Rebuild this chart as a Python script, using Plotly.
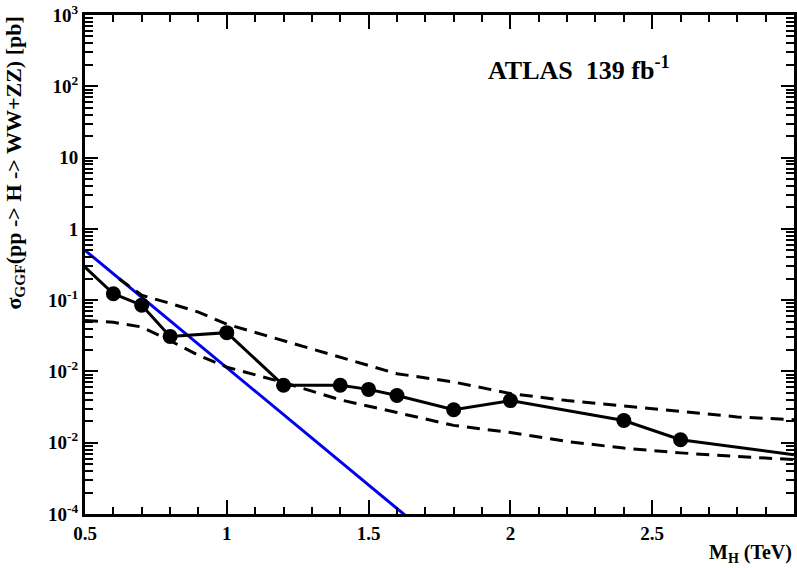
import plotly.graph_objects as go

# ---- data ----
mass_obs = [0.5, 0.6, 0.7, 0.8, 1.0, 1.2, 1.4, 1.5, 1.6, 1.8, 2.0, 2.4, 2.6, 3.0]
xs_obs = [0.29, 0.123, 0.085, 0.031, 0.035, 0.0064, 0.0064, 0.0056, 0.0046,
          0.0029, 0.0039, 0.00205, 0.0011, 0.00068]
marker_mask = [False] + [True] * 12 + [False]

mass_up = [0.62, 0.7, 0.8, 0.9, 1.0, 1.2, 1.4, 1.6, 1.8, 2.0, 2.2, 2.4, 2.6, 2.8, 3.0]
xs_up = [0.20, 0.117, 0.090, 0.068, 0.046, 0.027, 0.0162, 0.0093, 0.0071,
         0.0049, 0.0039, 0.0033, 0.00275, 0.0023, 0.0021]

mass_lo = [0.5, 0.6, 0.7, 0.8, 0.9, 1.0, 1.2, 1.4, 1.6, 1.8, 2.0, 2.2, 2.4, 2.6, 2.8, 3.0]
xs_lo = [0.052, 0.049, 0.042, 0.027, 0.0168, 0.0115, 0.0070, 0.0040, 0.00265,
         0.00175, 0.00139, 0.00104, 0.00084, 0.00072, 0.00064, 0.00058]

mass_th = [0.5, 1.0, 1.5, 1.7]
xs_th = [0.5, 0.0114, 2.6e-4, 5.6e-5]

# default plotly log labels -> labels shown in the reference
y_label_alias = {"100μ": "10<sup>-4</sup>", "0.001": "10<sup>-2</sup>",
                 "0.01": "10<sup>-2</sup>", "0.1": "10<sup>-1</sup>", "1": "1",
                 "10": "10", "100": "10<sup>2</sup>", "1000": "10<sup>3</sup>"}
x_ticklabels = ["0.5", "1", "1.5", "2", "2.5", "3"]

FONT = "Liberation Serif"

fig = go.Figure()

fig.add_trace(go.Scatter(x=mass_th, y=xs_th, mode="lines",
                         line=dict(color="#0000ee", width=3), showlegend=False))
fig.add_trace(go.Scatter(x=mass_up, y=xs_up, mode="lines",
                         line=dict(color="black", width=3, dash="13px,8px"), showlegend=False))
fig.add_trace(go.Scatter(x=mass_lo, y=xs_lo, mode="lines",
                         line=dict(color="black", width=3, dash="13px,8px"), showlegend=False))
fig.add_trace(go.Scatter(x=mass_obs, y=xs_obs, mode="lines",
                         line=dict(color="black", width=3), showlegend=False))
fig.add_trace(go.Scatter(x=[m for m, k in zip(mass_obs, marker_mask) if k],
                         y=[v for v, k in zip(xs_obs, marker_mask) if k],
                         mode="markers", marker=dict(color="black", size=15),
                         showlegend=False, cliponaxis=False))
# invisible trace on the overlay axes that carry the minor ticks
fig.add_trace(go.Scatter(x=mass_obs, y=xs_obs, xaxis="x2", yaxis="y2", mode="lines",
                         line=dict(color="rgba(0,0,0,0)", width=0),
                         hoverinfo="skip", showlegend=False))

fig.update_layout(
    xaxis=dict(range=[0.5, 3], tickmode="linear", tick0=0.5, dtick=0.5,
               labelalias={t: "<b>%s</b>" % t for t in x_ticklabels},
               ticks="inside", ticklen=14, tickwidth=2, tickcolor="black",
               showline=True, linecolor="black", linewidth=3, mirror="ticks",
               showgrid=False, zeroline=False,
               tickfont=dict(family=FONT, size=19, color="black")),
    yaxis=dict(type="log", range=[-4, 3], tickmode="linear", tick0=0, dtick=1,
               labelalias={k: "<b>%s</b>" % v for k, v in y_label_alias.items()},
               ticks="inside", ticklen=13, tickwidth=2, tickcolor="black",
               showline=True, linecolor="black", linewidth=3, mirror="ticks",
               showgrid=False, zeroline=False,
               tickfont=dict(family=FONT, size=19, color="black")),
    # minor ticks, drawn as the major ticks of overlay axes
    xaxis2=dict(range=[0.5, 3], tickmode="linear", tick0=0.5, dtick=0.1,
                overlaying="x", anchor="y2", side="bottom",
                ticks="inside", ticklen=7, tickwidth=2, tickcolor="black",
                showline=False, mirror="ticks", showgrid=False, zeroline=False,
                showticklabels=False),
    yaxis2=dict(type="log", range=[-4, 3], tickmode="linear", tick0=0, dtick="D1",
                overlaying="y", anchor="x2", side="left",
                ticks="inside", ticklen=8, tickwidth=2, tickcolor="black",
                showline=False, mirror="ticks", showgrid=False, zeroline=False,
                showticklabels=False),
)

fig.add_annotation(text="<b>ATLAS&nbsp;&nbsp;139 fb<sup>-1</sup></b>", xref="paper", yref="paper",
                   x=0.565, y=0.893, xanchor="left", yanchor="middle", showarrow=False,
                   font=dict(family=FONT, size=26, color="black"))
fig.add_annotation(text="<b>M<sub>H</sub> (TeV)</b>", xref="paper", yref="paper",
                   x=1.0, y=-0.05, xanchor="right", yanchor="top", showarrow=False,
                   font=dict(family=FONT, size=20, color="black"))
fig.add_annotation(text="<b>σ<sub>GGF</sub>(pp -> H -> WW+ZZ) [pb]</b>",
                   xref="paper", yref="paper", x=-0.1, y=1.0, textangle=-90,
                   xanchor="center", yanchor="top", showarrow=False,
                   font=dict(family=FONT, size=22, color="black"))

fig.update_layout(template="none", width=797, height=568,
                  plot_bgcolor="white", paper_bgcolor="white",
                  margin=dict(l=85, r=3, t=15, b=54), showlegend=False)

fig.write_html("out.html", config={"displayModeBar": False},
               post_script="document.body.style.margin='0px';document.body.style.padding='0px';")
